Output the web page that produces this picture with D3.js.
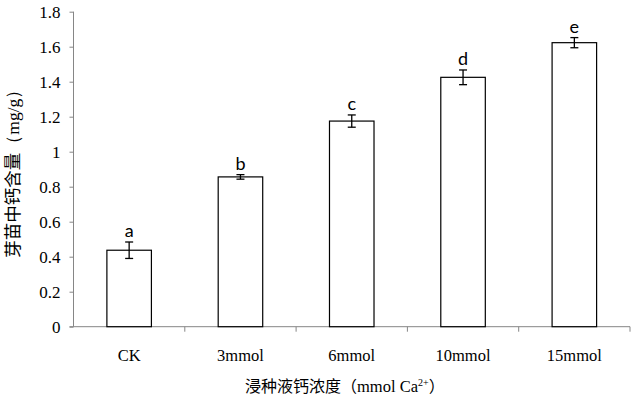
<!DOCTYPE html>
<html>
<head>
<meta charset="utf-8">
<script src="https://cdn.jsdelivr.net/npm/d3@7/dist/d3.min.js"></script>
<style>
    body { margin: 0; background: #fff; }
    svg { display: block; }
</style>
</head>
<body>
<div id="chart"></div>
<script>
const categories = ["CK", "3mmol", "6mmol", "10mmol", "15mmol"];
const means = [0.437, 0.856, 1.175, 1.425, 1.623];
const errors = [0.047, 0.013, 0.035, 0.042, 0.029];
const letters = ["a", "b", "c", "d", "e"];
const yTicks = [0, 0.2, 0.4, 0.6, 0.8, 1, 1.2, 1.4, 1.6, 1.8];

const width = 633;
const height = 399;
const margin = { top: 11.7, right: 3, bottom: 72.3, left: 73.5 };

const svg = d3.select("#chart")
    .append("svg")
    .attr("width", width)
    .attr("height", height);

const x = d3.scaleBand()
    .domain(categories)
    .range([margin.left, width - margin.right])
    .paddingInner(0.6)
    .paddingOuter(0.3);

const y = d3.scaleLinear()
    .domain([0, 1.8])
    .range([height - margin.bottom, margin.top]);

const serif = "'Liberation Serif', 'Times New Roman', serif";
const axisColor = "#868686";

// y axis
const yAxis = svg.append("g")
    .attr("transform", `translate(${margin.left},0)`)
    .call(d3.axisLeft(y).tickValues(yTicks).tickSize(4).tickPadding(9).tickFormat(d3.format("")));

yAxis.select(".domain").attr("stroke", axisColor).attr("d", `M0,${y(1.8)}V${y(0)}`);
yAxis.selectAll(".tick line").attr("stroke", axisColor);
yAxis.selectAll(".tick text")
    .style("font-family", serif)
    .style("font-size", "17px")
    .attr("fill", "#000");

// x axis
const y0 = y(0);
svg.append("line")
    .attr("x1", margin.left - 4)
    .attr("x2", width - margin.right)
    .attr("y1", y0)
    .attr("y2", y0)
    .attr("stroke", axisColor);

svg.selectAll(".xtick")
    .data(categories)
    .enter()
    .append("line")
    .attr("class", "xtick")
    .attr("x1", d => x(d) + x.bandwidth() + x.step() * 0.3)
    .attr("x2", d => x(d) + x.bandwidth() + x.step() * 0.3)
    .attr("y1", y0)
    .attr("y2", y0 + 5)
    .attr("stroke", axisColor);

svg.selectAll(".xlabel")
    .data(categories)
    .enter()
    .append("text")
    .attr("class", "xlabel")
    .attr("x", d => x(d) + x.bandwidth() / 2)
    .attr("y", y0 + 34)
    .attr("text-anchor", "middle")
    .style("font-family", serif)
    .style("font-size", "16.5px")
    .text(d => d);

// bars
const data = categories.map((c, i) => ({ cat: c, mean: means[i], err: errors[i], letter: letters[i] }));

svg.selectAll(".bar")
    .data(data)
    .enter()
    .append("rect")
    .attr("class", "bar")
    .attr("x", d => x(d.cat))
    .attr("y", d => y(d.mean))
    .attr("width", x.bandwidth())
    .attr("height", d => y0 - y(d.mean))
    .attr("fill", "#fff")
    .attr("stroke", "#000")
    .attr("stroke-width", 1.2);

// error bars
const err = svg.selectAll(".err")
    .data(data)
    .enter()
    .append("g")
    .attr("class", "err")
    .attr("stroke", "#000")
    .attr("stroke-width", 1.3);

err.append("line")
    .attr("x1", d => x(d.cat) + x.bandwidth() / 2)
    .attr("x2", d => x(d.cat) + x.bandwidth() / 2)
    .attr("y1", d => y(d.mean + d.err))
    .attr("y2", d => y(d.mean - d.err));

[1, -1].forEach(s => {
    err.append("line")
        .attr("x1", d => x(d.cat) + x.bandwidth() / 2 - 4)
        .attr("x2", d => x(d.cat) + x.bandwidth() / 2 + 4)
        .attr("y1", d => y(d.mean + s * d.err))
        .attr("y2", d => y(d.mean + s * d.err));
});

// significance letters
svg.selectAll(".letter")
    .data(data)
    .enter()
    .append("text")
    .attr("class", "letter")
    .attr("x", d => x(d.cat) + x.bandwidth() / 2)
    .attr("y", d => y(d.mean + d.err) - 5)
    .attr("text-anchor", "middle")
    .style("font-family", "Lato, 'Open Sans', sans-serif")
    .style("font-size", "18px")
    .text(d => d.letter);

// axis titles
svg.append("text")
    .attr("transform", `translate(19,${(y(0) + y(1.8)) / 2}) rotate(-90)`)
    .attr("text-anchor", "middle")
    .style("font-size", "17.5px")
    .style("font-family", "'Noto Sans CJK SC', sans-serif")
    .call(t => {
        t.append("tspan").text("芽苗中钙含量");
        t.append("tspan").style("font-family", serif).text("（mg/g）");
    });

const xt = svg.append("text")
    .attr("x", 245)
    .attr("y", 392)
    .style("font-size", "16px")
    .style("font-family", "'Noto Sans CJK SC', sans-serif");
xt.append("tspan").text("浸种液钙浓度（");
xt.append("tspan").style("font-family", serif).style("font-size", "16.5px").text("mmol Ca");
xt.append("tspan").style("font-family", serif).style("font-size", "10px").attr("dy", -6).text("2+");
xt.append("tspan").attr("dy", 6).text("）");
</script>
</body>
</html>
